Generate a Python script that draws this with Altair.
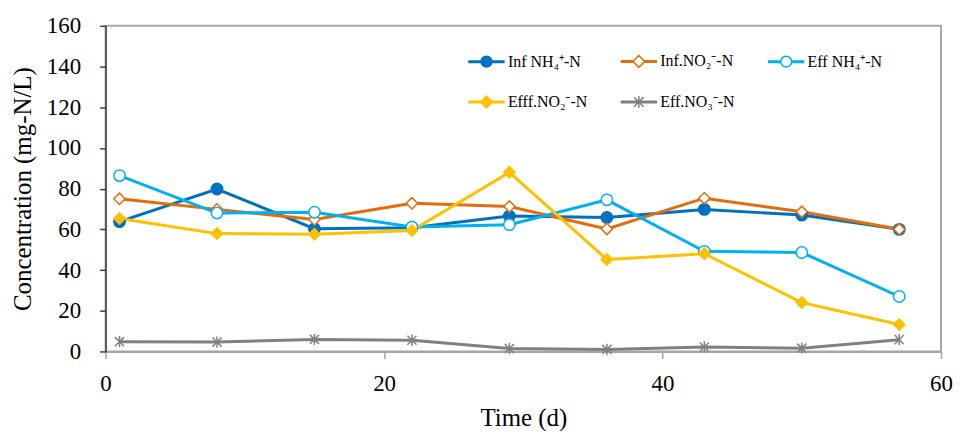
import altair as alt
import pandas as pd

# ---- data ----
days = [1, 8, 15, 22, 29, 36, 43, 50, 57]
inf_nh4 = [63.8, 79.8, 60.3, 60.8, 66.5, 65.8, 69.8, 67.0, 60.0]
inf_no2 = [75.0, 69.8, 64.8, 72.8, 71.2, 60.2, 75.3, 68.6, 60.0]
eff_nh4 = [86.4, 68.0, 68.4, 61.1, 62.3, 74.5, 49.2, 48.6, 27.0]
eff_no2 = [65.3, 57.9, 57.6, 59.4, 88.0, 45.2, 48.0, 24.0, 13.2]
eff_no3 = [4.8, 4.6, 5.9, 5.5, 1.4, 1.0, 2.2, 1.6, 5.8]

series_names = ["Inf NH₄⁺-N", "Inf.NO₂⁻-N", "Eff NH₄⁺-N", "Efff.NO₂⁻-N", "Eff.NO₃⁻-N"]
line_colors = ["#0070C0", "#E46C0A", "#00B0F0", "#FFC000", "#808080"]
marker_fills = ["#0070C0", "#FFFFFF", "#FFFFFF", "#FFC000", "#808080"]
marker_shapes = ["circle", "diamond", "circle", "diamond",
                 "M0,-1V1M-0.8,-0.8L0.8,0.8M-0.8,0.8L0.8,-0.8"]
x_ticks = [0, 20, 40, 60]
y_ticks = [0, 20, 40, 60, 80, 100, 120, 140, 160]

# legend glyphs: short line + marker, drawn in the [-1, 1] symbol box
_h = 0.043
_rc = 0.31
_rd = 0.34
_circle = f"M-{_rc},0A{_rc},{_rc} 0 1,1 {_rc},0A{_rc},{_rc} 0 1,1 -{_rc},0Z"
_diamond = f"M0,-{_rd}L{_rd},0L0,{_rd}L-{_rd},0Z"
def _segs(r):
    return f"M-1,-{_h}H-{r}V{_h}H-1ZM{r},-{_h}H1V{_h}H{r}Z"
legend_glyphs = [
    _segs(_rc) + _circle,
    _segs(_rd) + _diamond,
    _segs(_rc) + _circle,
    _segs(_rd) + _diamond,
    f"M-1,-{_h}H1V{_h}H-1Z" + "M0,-0.34V0.34M-0.27,-0.27L0.27,0.27M-0.27,0.27L0.27,-0.27",
]

all_values = [inf_nh4, inf_no2, eff_nh4, eff_no2, eff_no3]
rows = []
for name, vals in zip(series_names, all_values):
    for d, v in zip(days, vals):
        rows.append({"Time": d, "Conc": v, "Series": name})
df = pd.DataFrame(rows)

FONT = "Liberation Serif"
PW, PH = 839, 327

x_enc = alt.X(
    "Time:Q",
    scale=alt.Scale(domain=[0, 60], nice=False),
    axis=alt.Axis(
        values=x_ticks, title="Time (d)", grid=False, labelFlush=False,
        domainColor="#A6A6A6", domainWidth=2, tickColor="#A6A6A6", tickWidth=1.5,
        tickSize=7, labelPadding=14, labelFont=FONT, labelFontSize=23, labelColor="#000000",
        titleFont=FONT, titleFontSize=25, titleFontWeight="normal", titleColor="#000000",
        titleX=PW / 2, titleY=74, titleAlign="center", titleBaseline="alphabetic", titleAngle=0,
    ),
)
y_enc = alt.Y(
    "Conc:Q",
    scale=alt.Scale(domain=[0, 160], nice=False),
    axis=alt.Axis(
        values=y_ticks, title="Concentration (mg-N/L)", grid=False,
        domainColor="#404040", domainWidth=1.5, tickColor="#404040", tickWidth=1.5,
        tickSize=6, labelPadding=19, labelFont=FONT, labelFontSize=23, labelColor="#000000",
        titleFont=FONT, titleFontSize=25, titleFontWeight="normal", titleColor="#000000",
        titleX=-83, titleY=PH / 2, titleAlign="center", titleBaseline="middle", titleAngle=270,
    ),
)

SYM_W = 35
leg = alt.Legend(orient="none", legendX=364, legendY=17, columns=3, direction="horizontal",
                 title=None, labelFont=FONT, labelFontSize=16, labelColor="#000000",
                 columnPadding=31, rowPadding=13, labelLimit=0, labelOffset=3,
                 symbolSize=SYM_W * SYM_W, symbolStrokeWidth=1.5, symbolOpacity=1)

lines = alt.Chart(df).mark_line(strokeWidth=3).encode(
    x=x_enc, y=y_enc,
    color=alt.Color("Series:N", scale=alt.Scale(domain=series_names, range=line_colors),
                    legend=None),
)

points = alt.Chart(df).mark_point(opacity=1, strokeWidth=1.5, size=130).encode(
    x=x_enc, y=y_enc,
    shape=alt.Shape("Series:N", scale=alt.Scale(domain=series_names, range=marker_shapes),
                    legend=None),
    fill=alt.Fill("Series:N", scale=alt.Scale(domain=series_names, range=marker_fills),
                  legend=None),
    stroke=alt.Stroke("Series:N", scale=alt.Scale(domain=series_names, range=line_colors),
                      legend=None),
)

legend_layer = alt.Chart(df).transform_filter("datum.Conc < 0").mark_point(
    opacity=1, strokeWidth=1.5
).encode(
    x=x_enc, y=y_enc,
    shape=alt.Shape("Series:N", scale=alt.Scale(domain=series_names, range=legend_glyphs),
                    legend=leg),
    fill=alt.Fill("Series:N", scale=alt.Scale(domain=series_names, range=marker_fills),
                  legend=leg),
    stroke=alt.Stroke("Series:N", scale=alt.Scale(domain=series_names, range=line_colors),
                      legend=leg),
)

chart = alt.layer(lines, points, legend_layer).resolve_scale(
    shape="independent", fill="independent", stroke="independent"
).properties(
    width=PW, height=PH,
    autosize=alt.AutoSizeParams(type="none"),
    padding={"left": 98, "top": 17, "right": 12, "bottom": 79},
    background="#FFFFFF",
).configure_view(stroke="#A6A6A6", strokeWidth=2)

chart.save("out.html", embed_options={"renderer": "svg", "actions": False})
